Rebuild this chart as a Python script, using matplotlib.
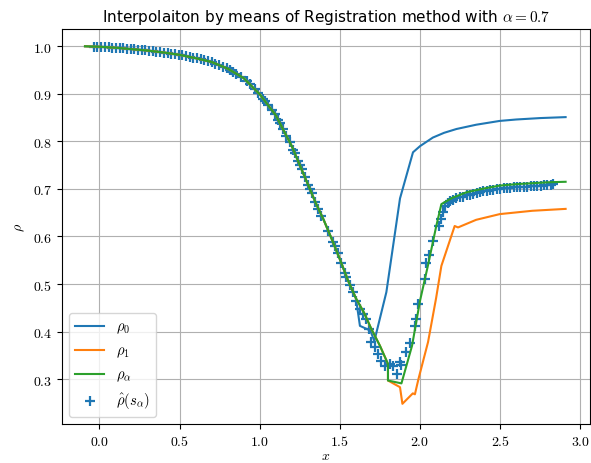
import matplotlib
matplotlib.use('Agg')
import matplotlib.pyplot as plt
from matplotlib.ticker import FuncFormatter

plt.rcParams['mathtext.fontset'] = 'cm'

# shared smooth part of the three profiles
x_common = [-0.09, 0.0, 0.1, 0.2, 0.3, 0.4, 0.5, 0.6, 0.7, 0.8, 0.9, 1.0,
            1.1, 1.2, 1.3, 1.35, 1.4, 1.45, 1.5, 1.55, 1.6]
rho_common = [1.000, 0.999, 0.997, 0.994, 0.991, 0.987, 0.982, 0.975, 0.967, 0.953, 0.933, 0.899,
              0.855, 0.790, 0.710, 0.670, 0.634, 0.594, 0.552, 0.508, 0.470]

# rho_0 after the split
x0_tail = [1.625, 1.69, 1.715, 1.79, 1.875, 1.956, 2.0, 2.08, 2.15, 2.227, 2.35, 2.497, 2.6, 2.75, 2.908]
rho0_tail = [0.412, 0.402, 0.380, 0.483, 0.680, 0.777, 0.790, 0.808, 0.818, 0.826, 0.835, 0.843, 0.846, 0.849, 0.851]

# rho_1 after the split
x1_tail = [1.65, 1.697, 1.75, 1.80, 1.80, 1.875, 1.89, 1.955, 1.968, 1.99, 2.05, 2.1, 2.133, 2.216, 2.237,
           2.35, 2.497, 2.7, 2.908]
rho1_tail = [0.440, 0.405, 0.370, 0.332, 0.297, 0.283, 0.248, 0.270, 0.268, 0.300, 0.378, 0.470, 0.538, 0.622, 0.619,
             0.635, 0.647, 0.654, 0.658]

# rho_alpha after the split
xa_tail = [1.65, 1.697, 1.75, 1.80, 1.80, 1.884, 1.95, 2.0, 2.05, 2.1, 2.133, 2.2, 2.29, 2.4, 2.497,
           2.6, 2.7, 2.8, 2.908]
rhoa_tail = [0.440, 0.405, 0.370, 0.332, 0.297, 0.291, 0.370, 0.465, 0.540, 0.620, 0.668, 0.681, 0.693, 0.701, 0.707,
             0.710, 0.712, 0.714, 0.715]

# registered samples rho_hat(s_alpha)
s_alpha = [-0.035, -0.012, 0.011, 0.034, 0.057, 0.080, 0.103, 0.126, 0.149, 0.172, 0.195, 0.218,
           0.241, 0.264, 0.287, 0.310, 0.333, 0.356, 0.379, 0.402, 0.425, 0.448, 0.471, 0.494,
           0.517, 0.540, 0.563, 0.586, 0.609, 0.632, 0.655, 0.678, 0.701, 0.724, 0.747, 0.770,
           0.793, 0.816, 0.834, 0.855, 0.886, 0.918, 0.938, 0.969, 0.990, 1.022, 1.032, 1.053,
           1.074, 1.094, 1.115, 1.125, 1.146, 1.167, 1.188, 1.209, 1.219, 1.240, 1.250, 1.261,
           1.281, 1.302, 1.313, 1.323, 1.344, 1.364, 1.385, 1.427, 1.458, 1.468, 1.489, 1.510,
           1.531, 1.541, 1.562, 1.582, 1.603, 1.624, 1.645, 1.666, 1.680, 1.697, 1.718, 1.738,
           1.759, 1.780, 1.811, 1.832, 1.857, 1.874, 1.884, 1.911, 1.940, 1.967, 1.973, 1.988,
           2.029, 2.040, 2.058, 2.080, 2.118, 2.133, 2.143, 2.154, 2.175, 2.185, 2.206, 2.227,
           2.248, 2.269, 2.290, 2.311, 2.332, 2.353, 2.374, 2.395, 2.416, 2.437, 2.458, 2.479,
           2.500, 2.521, 2.542, 2.563, 2.584, 2.605, 2.626, 2.647, 2.668, 2.689, 2.710, 2.731,
           2.752, 2.773, 2.794, 2.815, 2.830]
rho_hat = [0.9994, 0.9990, 0.9987, 0.9983, 0.9976, 0.9974, 0.9969, 0.9962, 0.9955, 0.9948, 0.9942, 0.9935,
           0.9928, 0.9921, 0.9914, 0.9906, 0.9897, 0.9888, 0.9878, 0.9869, 0.9857, 0.9845, 0.9835, 0.9823,
           0.9808, 0.9792, 0.9776, 0.9760, 0.9743, 0.9724, 0.9706, 0.9688, 0.9669, 0.9636, 0.9604, 0.9572,
           0.9540, 0.9498, 0.9462, 0.9420, 0.9358, 0.9269, 0.9201, 0.9095, 0.9024, 0.8893, 0.8849, 0.8757,
           0.8664, 0.8576, 0.8452, 0.8388, 0.8251, 0.8115, 0.7978, 0.7828, 0.7748, 0.7580, 0.7500, 0.7412,
           0.7252, 0.7083, 0.6991, 0.6907, 0.6731, 0.6588, 0.6432, 0.6124, 0.5880, 0.5803, 0.5643, 0.5434,
           0.5227, 0.5140, 0.4983, 0.4840, 0.4650, 0.447, 0.437, 0.426, 0.405, 0.377, 0.367, 0.353,
           0.339, 0.328, 0.332, 0.328, 0.311, 0.335, 0.330, 0.357, 0.376, 0.412, 0.426, 0.458,
           0.510, 0.545, 0.562, 0.591, 0.622, 0.637, 0.651, 0.664, 0.670, 0.674, 0.677, 0.680,
           0.682, 0.684, 0.687, 0.688, 0.690, 0.692, 0.693, 0.695, 0.696, 0.697, 0.698, 0.699,
           0.700, 0.701, 0.702, 0.702, 0.703, 0.704, 0.704, 0.705, 0.705, 0.706, 0.706, 0.707,
           0.707, 0.708, 0.708, 0.709, 0.710]

x0 = x_common + x0_tail
rho0 = rho_common + rho0_tail
x1 = x_common + x1_tail
rho1 = rho_common + rho1_tail
xa = x_common + xa_tail
rhoa = rho_common + rhoa_tail

fig = plt.figure(figsize=(5.91, 4.64), dpi=100)
ax = fig.add_axes([0.105, 0.084, 0.893, 0.851])

ax.plot(x0, rho0, color='C0', label=r'$\rho_0$')
ax.plot(x1, rho1, color='C1', label=r'$\rho_1$')
ax.plot(xa, rhoa, color='C2', label=r'$\rho_\alpha$')
ax.scatter(s_alpha, rho_hat, marker='+', color='C0', s=45, linewidths=1.6, label=r'$\hat{\rho}(s_\alpha)$')

ax.set_xlim(-0.233, 3.059)
ax.set_ylim(0.2055, 1.036)
ax.grid(True)
ax.set_axisbelow(True)

ax.xaxis.set_major_formatter(FuncFormatter(lambda v, p: r'$%.1f$' % v))
ax.yaxis.set_major_formatter(FuncFormatter(lambda v, p: r'$%.1f$' % v))

ax.set_xlabel(r'$x$', labelpad=0)
ax.set_ylabel(r'$\rho$')
ax.set_title(r'Interpolaiton by means of Registration method with $\alpha = 0.7$', fontsize=11)
ax.legend(loc='lower left', fontsize=10.5)

fig.savefig('out.png', dpi=100)
